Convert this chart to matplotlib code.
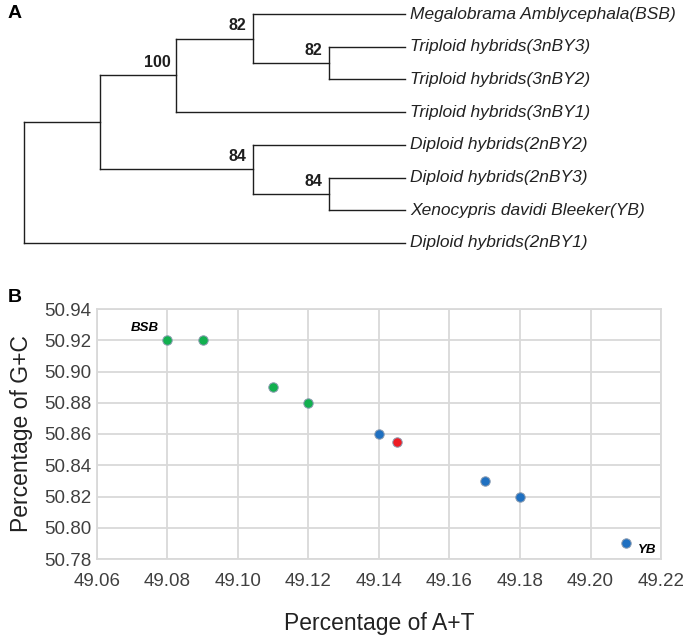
import matplotlib

matplotlib.use("Agg")

import matplotlib.pyplot as plt

# --- data -----------------------------------------------------------------
# panel A: cladogram (newick with bootstrap support on internal nodes)
tree_newick = "((((BSB,(3nBY3,3nBY2)82)82,3nBY1)100,(2nBY2,(2nBY3,YB)84)84),2nBY1)"
leaf_codes = ["BSB", "3nBY3", "3nBY2", "3nBY1", "2nBY2", "2nBY3", "YB", "2nBY1"]
leaf_names = [
    "Megalobrama Amblycephala(BSB)",
    "Triploid hybrids(3nBY3)",
    "Triploid hybrids(3nBY2)",
    "Triploid hybrids(3nBY1)",
    "Diploid hybrids(2nBY2)",
    "Diploid hybrids(2nBY3)",
    "Xenocypris davidi Bleeker(YB)",
    "Diploid hybrids(2nBY1)",
]

# panel B: base composition
at_green = [49.08, 49.09, 49.11, 49.12]
gc_green = [50.92, 50.92, 50.89, 50.88]
at_blue = [49.14, 49.17, 49.18, 49.21]
gc_blue = [50.86, 50.83, 50.82, 50.79]
at_red = [49.145]
gc_red = [50.855]
x_ticks = [49.06, 49.08, 49.10, 49.12, 49.14, 49.16, 49.18, 49.20, 49.22]
y_ticks = [50.78, 50.80, 50.82, 50.84, 50.86, 50.88, 50.90, 50.92, 50.94]

plt.rcParams["font.family"] = ["Liberation Sans", "DejaVu Sans"]


def parse_newick(s):
    pos = 0

    def node():
        nonlocal pos
        if s[pos] == "(":
            pos += 1
            kids = [node()]
            while s[pos] == ",":
                pos += 1
                kids.append(node())
            pos += 1
            start = pos
            while pos < len(s) and s[pos] not in ",)":
                pos += 1
            return {"kids": kids, "support": s[start:pos]}
        start = pos
        while s[pos] not in ",)":
            pos += 1
        return {"name": s[start:pos]}

    return node()


def layout(nd):
    # y = leaf order, h = steps to the furthest tip
    if "name" in nd:
        nd["y"] = leaf_codes.index(nd["name"])
        nd["h"] = 0
        return
    for k in nd["kids"]:
        layout(k)
    nd["y"] = (nd["kids"][0]["y"] + nd["kids"][-1]["y"]) / 2
    nd["h"] = 1 + max(k["h"] for k in nd["kids"])


root = parse_newick(tree_newick)
layout(root)
tip_x = root["h"]

fig = plt.figure(figsize=(6.85, 6.37), dpi=100)

# --- panel A --------------------------------------------------------------
axA = fig.add_axes([0, (637 - 260) / 637, 1, 260 / 637])
axA.axis("off")
unit = 76.2
leaf_gap = 32.7
axA.set_xlim(-24 / unit, (685 - 24) / unit)
axA.set_ylim((260 - 14) / leaf_gap, -14 / leaf_gap)
line_col = "#1e1e1e"


def draw(nd):
    if "name" in nd:
        axA.text(tip_x + 0.07, nd["y"], leaf_names[leaf_codes.index(nd["name"])],
                 fontsize=12.5, style="italic", va="center", ha="left", color="#222222")
        return
    x = tip_x - nd["h"]
    ys = [k["y"] for k in nd["kids"]]
    axA.plot([x, x], [min(ys), max(ys)], color=line_col, lw=1.0, solid_capstyle="projecting")
    for k in nd["kids"]:
        kx = tip_x - k["h"]
        axA.plot([x, kx], [k["y"], k["y"]], color=line_col, lw=1.0, solid_capstyle="projecting")
        draw(k)
    if nd["support"]:
        axA.text(x - 0.08, nd["y"] - 0.16, nd["support"], fontsize=11.5, weight="bold",
                 ha="right", va="bottom", color="#1e1e1e")


draw(root)
fig.text(8 / 685, 1 - 13 / 637, "A", fontsize=14, weight="bold", va="center", ha="left")

# --- panel B --------------------------------------------------------------
axB = fig.add_axes([97 / 685, (637 - 559) / 637, 564 / 685, 250 / 637])
axB.set_xlim(49.06, 49.22)
axB.set_ylim(50.78, 50.94)
axB.set_xticks(x_ticks)
axB.set_yticks(y_ticks)
axB.set_xticklabels([f"{v:.2f}" for v in x_ticks])
axB.set_yticklabels([f"{v:.2f}" for v in y_ticks])
axB.grid(True, color="#d9d9d9", lw=1.3)
axB.set_axisbelow(True)
for sp in axB.spines.values():
    sp.set_color("#d9d9d9")
    sp.set_linewidth(1.3)
axB.tick_params(length=0, labelsize=13.5, colors="#404040", pad=10)
axB.tick_params(axis="y", pad=4)

mk = dict(s=46, edgecolors="#8a9bb0", linewidths=0.7, zorder=3)
axB.scatter(at_green, gc_green, color="#12b04f", **mk)
axB.scatter(at_blue, gc_blue, color="#1f70c1", **mk)
axB.scatter(at_red, gc_red, color="#ee1c24", **mk)

axB.annotate("BSB", (at_green[0], gc_green[0]), xytext=(-6.5, 4.5), textcoords="offset points",
             ha="right", va="bottom", fontsize=9.5, style="italic", weight="bold")
axB.annotate("YB", (at_blue[-1], gc_blue[-1]), xytext=(8.5, -5), textcoords="offset points",
             ha="left", va="center", fontsize=9.5, style="italic", weight="bold")

axB.set_xlabel("Percentage of A+T", fontsize=16.5, color="#222222", labelpad=16)
axB.set_ylabel("Percentage of G+C", fontsize=16.5, color="#222222", labelpad=8)
fig.text(8 / 685, 1 - 298 / 637, "B", fontsize=14, weight="bold", va="center", ha="left")

fig.savefig("out.png", dpi=100)
